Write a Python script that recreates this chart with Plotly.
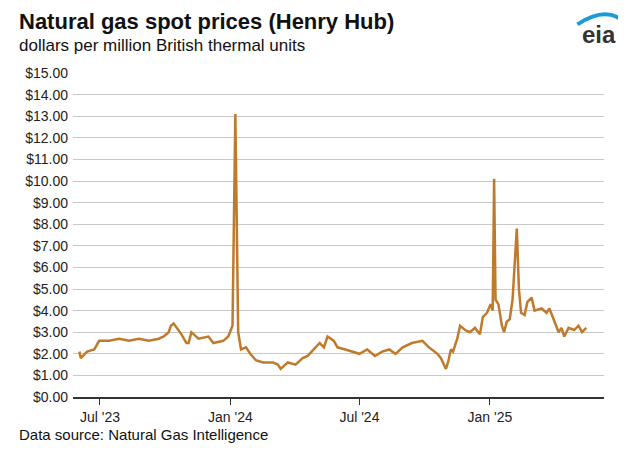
import plotly.graph_objects as go

# Henry Hub spot prices
dates = [
    "2023-06-02", "2023-06-04", "2023-06-13", "2023-06-23", "2023-06-30", "2023-07-14",
    "2023-07-28", "2023-08-11", "2023-08-25", "2023-09-08", "2023-09-22", "2023-09-29",
    "2023-10-06", "2023-10-09", "2023-10-13", "2023-10-20", "2023-10-24", "2023-10-31",
    "2023-11-03", "2023-11-07", "2023-11-17", "2023-12-01", "2023-12-08", "2023-12-22",
    "2023-12-29", "2024-01-04", "2024-01-08", "2024-01-12", "2024-01-16", "2024-01-23",
    "2024-01-29", "2024-02-06", "2024-02-16", "2024-03-01", "2024-03-08", "2024-03-12",
    "2024-03-22", "2024-04-02", "2024-04-12", "2024-04-19", "2024-04-30", "2024-05-06",
    "2024-05-12", "2024-05-17", "2024-05-26", "2024-05-31", "2024-06-11", "2024-06-21",
    "2024-07-01", "2024-07-12", "2024-07-23", "2024-08-02", "2024-08-12", "2024-08-21",
    "2024-08-31", "2024-09-13", "2024-09-28", "2024-10-07", "2024-10-19", "2024-10-24",
    "2024-10-28", "2024-10-31", "2024-11-03", "2024-11-07", "2024-11-10", "2024-11-16",
    "2024-11-20", "2024-11-27", "2024-12-04", "2024-12-11", "2024-12-18", "2024-12-22",
    "2024-12-28", "2025-01-02", "2025-01-05", "2025-01-07", "2025-01-09", "2025-01-13",
    "2025-01-18", "2025-01-21", "2025-01-25", "2025-01-29", "2025-02-02", "2025-02-08",
    "2025-02-11", "2025-02-14", "2025-02-19", "2025-02-23", "2025-03-01", "2025-03-05",
    "2025-03-15", "2025-03-22", "2025-03-26", "2025-04-02", "2025-04-08", "2025-04-12",
    "2025-04-16", "2025-04-22", "2025-04-30", "2025-05-06", "2025-05-11", "2025-05-17",
]
prices = [
    2.1, 1.8, 2.1, 2.2, 2.6, 2.6,
    2.7, 2.6, 2.7, 2.6, 2.7, 2.8,
    3.0, 3.3, 3.4, 3.1, 2.9, 2.5,
    2.5, 3.0, 2.7, 2.8, 2.5, 2.6,
    2.8, 3.3, 13.1, 3.0, 2.2, 2.3,
    2.0, 1.7, 1.6, 1.6, 1.5, 1.3,
    1.6, 1.5, 1.8, 1.9, 2.3, 2.5,
    2.3, 2.8, 2.6, 2.3, 2.2, 2.1,
    2.0, 2.2, 1.9, 2.1, 2.2, 2.0,
    2.3, 2.5, 2.6, 2.3, 2.0, 1.8,
    1.5, 1.3, 1.6, 2.2, 2.1, 2.7,
    3.3, 3.1, 3.0, 3.2, 2.9, 3.7,
    3.9, 4.3, 4.0, 10.1, 4.5, 4.3,
    3.3, 3.0, 3.5, 3.6, 4.5, 7.8,
    5.0, 3.9, 3.8, 4.4, 4.6, 4.0,
    4.1, 3.9, 4.1, 3.5, 3.0, 3.2,
    2.8, 3.2, 3.1, 3.3, 3.0, 3.2,
]

tick_vals = ["2023-07-01", "2024-01-01", "2024-07-01", "2025-01-01"]
tick_text = ["Jul '23", "Jan '24", "Jul '24", "Jan '25"]

fig = go.Figure()
fig.add_trace(go.Scatter(x=dates, y=prices, mode="lines",
                         line=dict(color="#C07A2C", width=2.5), hoverinfo="x+y"))

fig.update_layout(
    width=626, height=473, showlegend=False,
    plot_bgcolor="white", paper_bgcolor="white",
    font=dict(family="Liberation Sans, Arial", size=14, color="#222"),
    margin=dict(l=65, r=30, t=65, b=84),
    xaxis=dict(type="date", range=["2023-05-24", "2025-06-11"], tickvals=tick_vals,
               ticktext=tick_text, showgrid=False, showline=True, linecolor="#333",
               linewidth=1.5, ticks="outside", ticklen=6, tickcolor="#333",
               automargin=False),
    yaxis=dict(range=[0, 15], dtick=1, tickprefix="$", tickformat=".2f",
               gridcolor="#c8c8c8", gridwidth=1, zeroline=False, automargin=False,
               ticklabelstandoff=4),
    annotations=[
        dict(text="<b>Natural gas spot prices (Henry Hub)</b>", x=-0.105, y=1.205,
             xref="paper", yref="paper", xanchor="left", yanchor="top",
             showarrow=False, font=dict(size=22, color="#111")),
        dict(text="dollars per million British thermal units", x=-0.105, y=1.12,
             xref="paper", yref="paper", xanchor="left", yanchor="top",
             showarrow=False, font=dict(size=17, color="#111")),
        dict(text="Data source: Natural Gas Intelligence", x=-0.105, y=-0.115,
             xref="paper", yref="paper", xanchor="left", yanchor="middle",
             showarrow=False, font=dict(size=15, color="#111")),
        dict(text="<b>eia</b>", x=0.99, y=1.12, xref="paper", yref="paper",
             xanchor="center", yanchor="middle", showarrow=False,
             font=dict(size=24, color="#333")),
    ],
)
fig.add_shape(type="path", xref="paper", yref="paper",
              path="M 0.95 1.15 Q 1.005 1.21 1.04 1.155", line=dict(color="#1a9ad6", width=4))

fig.write_html("out.html")
